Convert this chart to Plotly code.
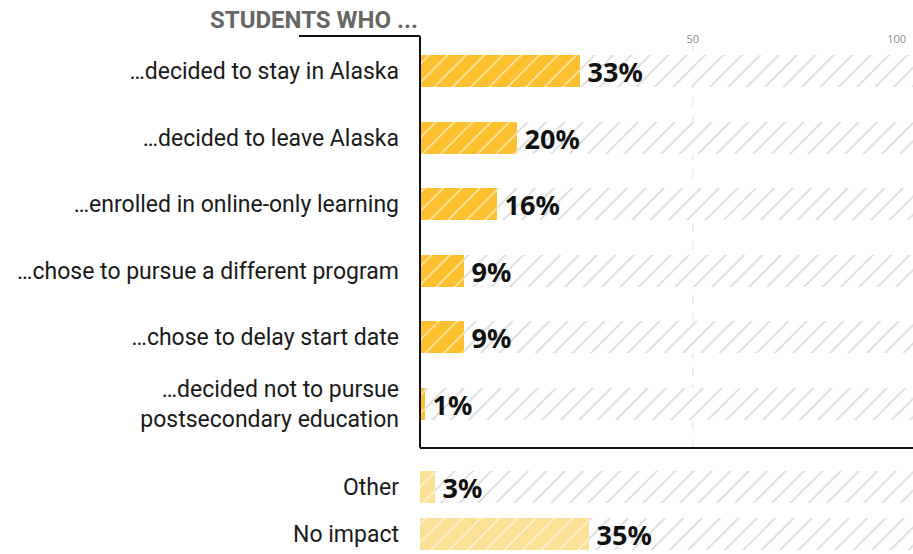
import plotly.graph_objects as go

# ---- data ----
categories = [
    "…decided to stay in Alaska",
    "…decided to leave Alaska",
    "…enrolled in online-only learning",
    "…chose to pursue a different program",
    "…chose to delay start date",
    "…decided not to pursue<br>postsecondary education",
    "Other",
    "No impact",
]
values = [33, 20, 16, 9, 9, 1, 3, 35]
group = ["who", "who", "who", "who", "who", "who", "extra", "extra"]
top_tick_vals = [50, 100]
top_tick_text = ["50", "100"]
title_text = "STUDENTS WHO ..."

# ---- layout constants ----
W, H = 913, 554
ML, MT = 420, 46
row_pos = [0, 1, 2, 3, 4, 5, 6.246, 6.952]
y_range = [7.252, -0.375]
x_max = 102
x2_range = [-16.9, 104.0]
bar_w = 0.48
GOLD = "#FDC02F"
LIGHT = "#FCE096"

colors = [GOLD if g == "who" else LIGHT for g in group]

def paper_y(v):
    return (y_range[0] - v) / (y_range[0] - y_range[1])

def paper_y_px(py):
    return (H - py) / (H - MT)

def paper_x_px(px):
    return (px - ML) / (W - ML)

fig = go.Figure()

# background hatched bars
fig.add_trace(go.Bar(
    uid="bgbars",
    y=row_pos, x=[x_max] * len(values), orientation="h", width=bar_w,
    marker=dict(color="white", line=dict(width=0),
                pattern=dict(shape="/", fgcolor="#B8B8B8", bgcolor="white",
                             size=13, solidity=0.14)),
    hoverinfo="skip", showlegend=False,
))

# solid value bars
fig.add_trace(go.Bar(
    uid="valbars",
    y=row_pos, x=values, orientation="h", width=bar_w,
    marker=dict(color=colors, line=dict(width=0)),
    hoverinfo="skip", showlegend=False,
))

# white hatch over the value bars, carrying the labels
fig.add_trace(go.Bar(
    uid="valhatch",
    y=row_pos, x=values, orientation="h", width=bar_w,
    marker=dict(color="rgba(0,0,0,0)", line=dict(width=0),
                pattern=dict(shape="/", fgcolor="#FFFFFF", bgcolor="rgba(0,0,0,0)",
                             fgopacity=0.75, size=13, solidity=0.1)),
    text=["\u2006" + f"{v}%" for v in values], textposition="outside",
    constraintext="none",
    textfont=dict(family="Noto Sans", size=27, color="#111111", weight=700),
    cliponaxis=False, showlegend=False,
))

# invisible trace to carry the top axis
fig.add_trace(go.Scatter(
    x=top_tick_vals, y=[0, 0], xaxis="x2", mode="markers",
    marker=dict(opacity=0), hoverinfo="skip", showlegend=False,
))

shapes = []
y_bottom = paper_y(5.66)
y_top = paper_y_px(36)
line = dict(color="#111111", width=2)
shapes.append(dict(type="line", xref="paper", yref="paper",
                   x0=0, x1=0, y0=y_bottom, y1=y_top, line=line))
shapes.append(dict(type="line", xref="paper", yref="paper",
                   x0=paper_x_px(299), x1=0, y0=y_top, y1=y_top, line=line))
shapes.append(dict(type="line", xref="paper", yref="paper",
                   x0=0, x1=1, y0=y_bottom, y1=y_bottom, line=line))
shapes.append(dict(type="line", xref="x2", yref="paper", layer="below",
                   x0=top_tick_vals[0], x1=top_tick_vals[0], y0=y_bottom, y1=1,
                   line=dict(color="#E2E2E2", width=1, dash="dash")))

fig.update_layout(
    width=W, height=H,
    margin=dict(l=ML, r=0, t=MT, b=0, pad=0),
    paper_bgcolor="white", plot_bgcolor="white",
    barmode="overlay", bargap=0,
    xaxis=dict(range=[0, x_max], visible=False, fixedrange=True),
    xaxis2=dict(range=x2_range, overlaying="x", side="top",
                tickvals=top_tick_vals, ticktext=top_tick_text,
                showgrid=False, zeroline=False, showline=False, ticks="",
                tickfont=dict(family="Open Sans", size=11, color="#8A8A8A")),
    yaxis=dict(range=y_range, tickvals=row_pos, ticktext=categories,
               showgrid=False, zeroline=False, showline=False, ticks="",
               ticklabelstandoff=20,
               tickfont=dict(family="Roboto", size=23, color="#1a1a1a")),
    shapes=shapes,
    annotations=[dict(
        text=title_text, xref="paper", yref="paper",
        x=paper_x_px(420), y=paper_y_px(20), xanchor="right", yanchor="middle",
        showarrow=False,
        font=dict(family="Roboto", size=24, color="#666666", weight="bold"),
    )],
)

fig.write_html(
    "out.html",
    config={"displayModeBar": False},
    post_script="document.body.style.margin='0';document.body.style.overflow='hidden';",
)
